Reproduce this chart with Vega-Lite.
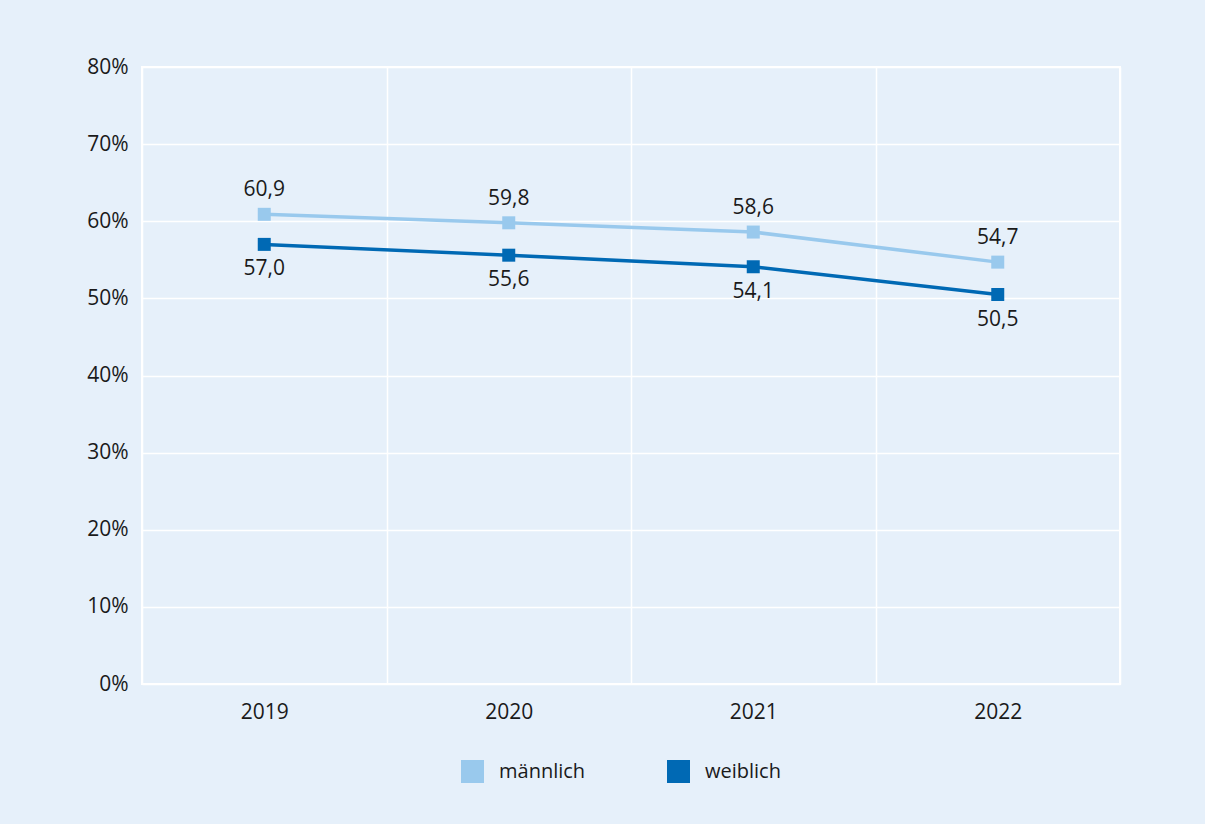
{
  "$schema": "https://vega.github.io/schema/vega-lite/v6.json",
  "width": 978,
  "height": 617,
  "autosize": {"type": "none"},
  "padding": {"left": 142, "top": 67, "right": 85, "bottom": 140},
  "background": "#e6f0fa",
  "config": {
    "locale": {"number": {"decimal": ",", "thousands": ".", "grouping": [3], "currency": ["", " €"]}},
    "font": "Open Sans",
    "view": {"stroke": "#ffffff", "strokeWidth": 2, "fill": "#e6f0fa"},
    "axis": {"labelFont": "Open Sans", "labelFontSize": 21, "labelColor": "#1a1a1a", "ticks": false, "domain": false, "gridColor": "#ffffff", "gridWidth": 1.5, "gridOpacity": 1, "title": null},
    "legend": {"labelFont": "Open Sans", "labelFontSize": 20, "labelColor": "#1a1a1a"}
  },
  "data": {
    "values": [
      {"Jahr": "2019", "Geschlecht": "männlich", "Wert": 60.9},
      {"Jahr": "2020", "Geschlecht": "männlich", "Wert": 59.8},
      {"Jahr": "2021", "Geschlecht": "männlich", "Wert": 58.6},
      {"Jahr": "2022", "Geschlecht": "männlich", "Wert": 54.7},
      {"Jahr": "2019", "Geschlecht": "weiblich", "Wert": 57.0},
      {"Jahr": "2020", "Geschlecht": "weiblich", "Wert": 55.6},
      {"Jahr": "2021", "Geschlecht": "weiblich", "Wert": 54.1},
      {"Jahr": "2022", "Geschlecht": "weiblich", "Wert": 50.5}
    ]
  },
  "encoding": {
    "x": {
      "field": "Jahr", "type": "nominal",
      "scale": {"paddingInner": 0, "paddingOuter": 0},
      "axis": {"labelAngle": 0, "labelPadding": 17, "grid": true, "tickBand": "extent"}
    },
    "y": {
      "field": "Wert", "type": "quantitative",
      "scale": {"domain": [0, 80]},
      "axis": {"values": [0, 10, 20, 30, 40, 50, 60, 70, 80], "labelExpr": "datum.value + '%'", "labelPadding": 14, "grid": true}
    },
    "color": {
      "field": "Geschlecht", "type": "nominal",
      "scale": {"domain": ["männlich", "weiblich"], "range": ["#99c9ed", "#0069b4"]},
      "legend": {"title": null, "orient": "none", "legendX": 319, "legendY": 693, "direction": "horizontal", "symbolType": "square", "symbolSize": 529, "symbolStrokeWidth": 0, "labelOffset": 15, "columnPadding": 81}
    }
  },
  "layer": [
    {"mark": {"type": "line", "strokeWidth": 3.5}},
    {"mark": {"type": "point", "shape": "square", "filled": true, "size": 169, "opacity": 1}},
    {
      "transform": [{"filter": "datum.Geschlecht === 'männlich'"}],
      "mark": {"type": "text", "fontSize": 21, "dy": -24, "baseline": "middle"},
      "encoding": {"text": {"field": "Wert", "type": "quantitative", "format": ".1f"}, "color": {"value": "#1a1a1a"}}
    },
    {
      "transform": [{"filter": "datum.Geschlecht === 'weiblich'"}],
      "mark": {"type": "text", "fontSize": 21, "dy": 25, "baseline": "middle"},
      "encoding": {"text": {"field": "Wert", "type": "quantitative", "format": ".1f"}, "color": {"value": "#1a1a1a"}}
    }
  ]
}
